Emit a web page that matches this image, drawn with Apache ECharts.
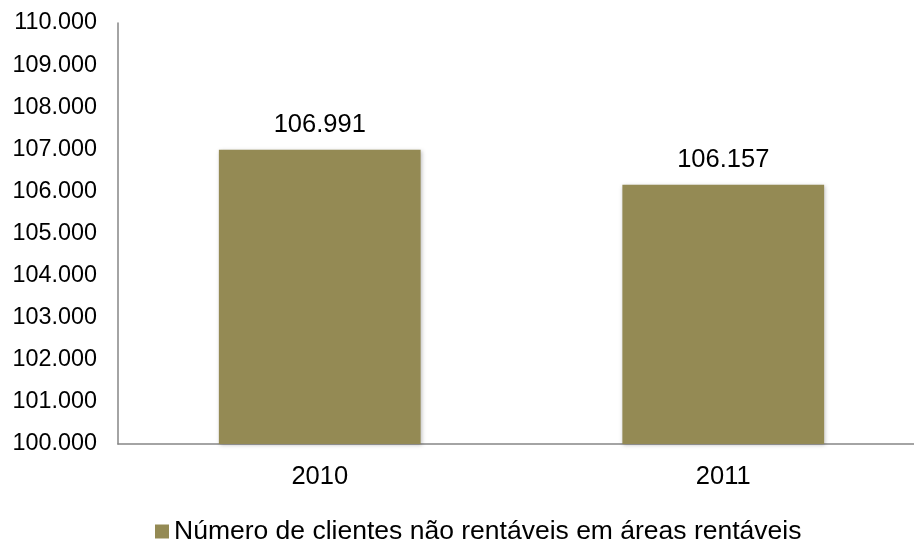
<!DOCTYPE html>
<html>
<head>
<meta charset="utf-8">
<script src="https://cdn.jsdelivr.net/npm/echarts@6/dist/echarts.min.js"></script>
<style>
  html, body { margin: 0; padding: 0; background: #fff; }
  #chart { width: 914px; height: 542px; }
</style>
</head>
<body>
<div id="chart"></div>
<script>
// Clients in profitable areas that are not profitable, per year
const categories = ['2010', '2011'];
const clientes = [106991, 106157];
const seriesName = 'Número de clientes não rentáveis em áreas rentáveis';

// Portuguese thousands separator
function fmt(v) {
  return String(Math.round(v)).replace(/\B(?=(\d{3})+(?!\d))/g, '.');
}

const FONT = 'Liberation Sans, Arial, sans-serif';

const chart = echarts.init(document.getElementById('chart'));
chart.setOption({
  animation: false,
  textStyle: { fontFamily: FONT },
  // plot area runs slightly past the right edge of the canvas
  grid: { left: 118, width: 807, top: 23, bottom: 98, outerBoundsMode: 'none' },
  legend: {
    top: 513,
    left: 150,
    itemWidth: 14,
    itemHeight: 14,
    textStyle: { fontSize: 26.5, color: '#000', fontFamily: FONT },
    data: [{ name: seriesName, icon: 'rect' }]
  },
  xAxis: {
    type: 'category',
    data: categories,
    axisLine: { lineStyle: { color: '#868686', width: 1.5 } },
    axisTick: { show: false },
    axisLabel: { fontSize: 25.5, color: '#000', margin: 20 }
  },
  yAxis: {
    type: 'value',
    min: 100000,
    max: 110000,
    interval: 1000,
    axisLine: { show: true, lineStyle: { color: '#868686', width: 1.5 } },
    axisTick: { show: false },
    splitLine: { show: false },
    axisLabel: { fontSize: 23.4, color: '#000', margin: 21, formatter: fmt }
  },
  series: [{
    name: seriesName,
    type: 'bar',
    data: clientes,
    barWidth: '50%',
    itemStyle: {
      color: '#948A54',
      shadowColor: 'rgba(0,0,0,0.25)',
      shadowBlur: 4,
      shadowOffsetX: 1,
      shadowOffsetY: 1
    },
    label: {
      show: true,
      position: 'top',
      distance: 12,
      fontSize: 25.5,
      color: '#000',
      formatter: p => fmt(p.value)
    }
  }]
});
</script>
</body>
</html>
